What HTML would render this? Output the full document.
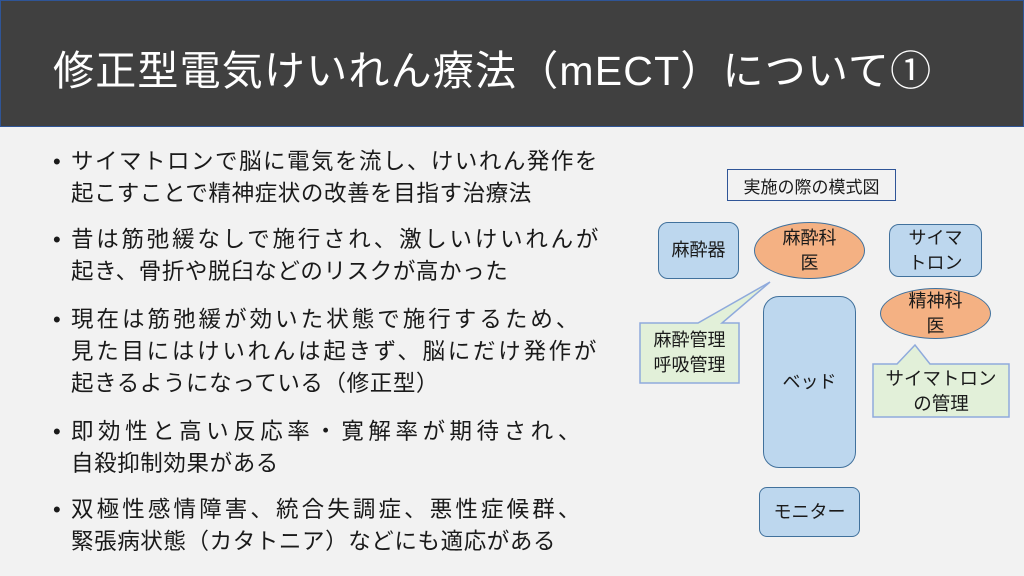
<!DOCTYPE html>
<html><head><meta charset="utf-8"><style>
*{margin:0;padding:0;box-sizing:border-box}
body{width:1024px;height:576px;background:#f2f2f2;position:relative;overflow:hidden;font-family:"Liberation Sans","Noto Sans CJK JP",sans-serif;color:#1a1a1a}
.hd{position:absolute;left:0;top:0;width:1024px;height:127px;background:#404040;border:1px solid #2f5597}
.tt{position:absolute;left:53px;top:37px;font-size:41px;color:#fff;white-space:nowrap;letter-spacing:1.2px}
.l{position:absolute;left:71px;font-size:22.5px;line-height:32px;white-space:nowrap;letter-spacing:0.6px}
.j{text-align:justify;text-align-last:justify;white-space:normal}
.b{position:absolute;left:53px;font-size:22px;line-height:32px}
.box{position:absolute;background:#bdd7ee;border:1.5px solid #41719c;border-radius:10px;display:flex;align-items:center;justify-content:center;text-align:center;font-size:18px;line-height:25px}
.el{position:absolute;background:#f4b183;border:1.5px solid #41719c;border-radius:50%;display:flex;align-items:center;justify-content:center;text-align:center;font-size:18px;line-height:25px}
.t{position:absolute;font-size:18px;line-height:25px;text-align:center}
</style></head><body>
<div class="hd"></div>
<div class="tt">修正型電気けいれん療法（mECT）について①</div>

<div class="b" style="top:146px">•</div>
<div class="l j" style="top:146px;width:527px">サイマトロンで脳に電気を流し、けいれん発作を</div>
<div class="l" style="top:178px">起こすことで精神症状の改善を目指す治療法</div>
<div class="b" style="top:224px">•</div>
<div class="l j" style="top:224px;width:528px">昔は筋弛緩なしで施行され、激しいけいれんが</div>
<div class="l" style="top:256px">起き、骨折や脱臼などのリスクが高かった</div>
<div class="b" style="top:304px">•</div>
<div class="l j" style="top:304px;width:508px">現在は筋弛緩が効いた状態で施行するため、</div>
<div class="l j" style="top:336px;width:526px">見た目にはけいれんは起きず、脳にだけ発作が</div>
<div class="l" style="top:368px">起きるようになっている（修正型）</div>
<div class="b" style="top:416px">•</div>
<div class="l j" style="top:416px;width:510px">即効性と高い反応率・寛解率が期待され、</div>
<div class="l" style="top:448px">自殺抑制効果がある</div>
<div class="b" style="top:494px">•</div>
<div class="l j" style="top:494px;width:510px">双極性感情障害、統合失調症、悪性症候群、</div>
<div class="l" style="top:526px">緊張病状態（カタトニア）などにも適応がある</div>

<div style="position:absolute;left:727px;top:169px;width:169px;height:32px;border:1.5px solid #2f5597;display:flex;align-items:center;justify-content:center;font-size:17px">実施の際の模式図</div>

<div class="box" style="left:658px;top:222px;width:81px;height:57px">麻酔器</div>
<div class="el" style="left:754px;top:222px;width:111px;height:57px">麻酔科<br>医</div>
<div class="box" style="left:889px;top:224px;width:93px;height:53px">サイマ<br>トロン</div>
<div class="box" style="left:763px;top:296px;width:93px;height:172px;border-radius:16px">ベッド</div>
<div class="el" style="left:880px;top:288px;width:111px;height:51px">精神科<br>医</div>
<div class="box" style="left:759px;top:487px;width:101px;height:50px;border-radius:8px">モニター</div>

<svg style="position:absolute;left:0;top:0" width="1024" height="576">
<path d="M640,323 L698,323 L770,282 L722,323 L739,323 L739,383 L640,383 Z" fill="#e2f0d9" stroke="#8faadc" stroke-width="1.5"/>
<path d="M873,364 L897,364 L915,345 L930,364 L1009,364 L1009,417 L873,417 Z" fill="#e2f0d9" stroke="#8faadc" stroke-width="1.5"/>
</svg>
<div class="t" style="left:640px;top:328px;width:99px">麻酔管理<br>呼吸管理</div>
<div class="t" style="left:873px;top:366px;width:136px;font-size:18.5px">サイマトロン<br>の管理</div>
</body></html>
